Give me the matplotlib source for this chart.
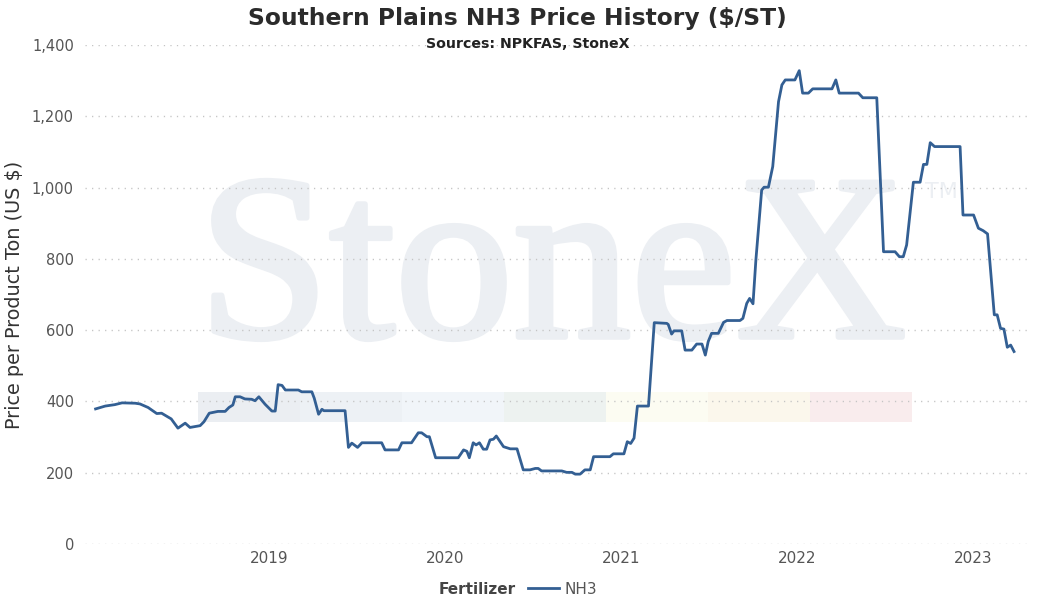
import matplotlib
matplotlib.use("Agg")
import matplotlib.pyplot as plt
import matplotlib.ticker as mticker
import matplotlib.patheffects as pe
from matplotlib.patches import Rectangle
import pandas as pd

# NH3 price history, Southern Plains ($/ST)
dates_2018 = ["2018-01-05", "2018-01-25", "2018-02-14", "2018-03-01", "2018-03-28", "2018-04-07",
              "2018-04-24", "2018-05-12", "2018-05-22", "2018-06-11", "2018-06-25", "2018-07-10",
              "2018-07-20", "2018-08-10", "2018-08-18", "2018-08-29", "2018-09-16", "2018-10-01",
              "2018-10-09", "2018-10-17", "2018-10-22", "2018-11-01", "2018-11-11", "2018-11-25",
              "2018-12-02", "2018-12-10", "2018-12-23"]
prices_2018 = [379, 387, 391, 396, 395, 393, 383, 366, 367, 351, 325, 339, 327, 332, 343, 367,
               372, 372, 383, 390, 413, 413, 407, 406, 402, 413, 392]

dates_2019 = ["2019-01-06", "2019-01-13", "2019-01-19", "2019-01-27", "2019-02-03", "2019-03-02",
              "2019-03-09", "2019-03-30", "2019-04-04", "2019-04-13", "2019-04-20", "2019-04-24",
              "2019-06-07", "2019-06-14", "2019-06-21", "2019-07-03", "2019-07-12", "2019-08-22",
              "2019-08-29", "2019-09-26", "2019-10-03", "2019-10-23", "2019-11-06", "2019-11-13",
              "2019-11-24", "2019-11-29", "2019-12-12"]
prices_2019 = [373, 373, 447, 445, 432, 432, 427, 427, 409, 364, 378, 374, 374, 271, 283, 271,
               284, 284, 264, 264, 284, 284, 312, 312, 301, 301, 242]

dates_2020 = ["2020-01-28", "2020-02-08", "2020-02-15", "2020-02-20", "2020-02-28", "2020-03-05",
              "2020-03-12", "2020-03-20", "2020-03-27", "2020-04-03", "2020-04-10", "2020-04-16",
              "2020-05-01", "2020-05-15", "2020-05-29", "2020-06-11", "2020-06-25", "2020-07-06",
              "2020-07-12", "2020-07-19", "2020-08-30", "2020-09-09", "2020-09-20", "2020-09-27",
              "2020-10-07", "2020-10-17", "2020-10-28", "2020-11-04", "2020-12-08", "2020-12-15"]
prices_2020 = [242, 264, 260, 242, 284, 278, 284, 266, 266, 292, 294, 303, 273, 267, 267, 208,
               208, 212, 212, 205, 205, 201, 201, 196, 196, 208, 208, 245, 245, 253]

dates_2021 = ["2021-01-06", "2021-01-13", "2021-01-20", "2021-01-27", "2021-02-03", "2021-02-26",
              "2021-03-10", "2021-04-05", "2021-04-08", "2021-04-15", "2021-04-20", "2021-05-06",
              "2021-05-13", "2021-05-27", "2021-06-06", "2021-06-17", "2021-06-24", "2021-06-30",
              "2021-07-07", "2021-07-21", "2021-08-01", "2021-08-08", "2021-09-04", "2021-09-10",
              "2021-09-18", "2021-09-24", "2021-10-01", "2021-10-07", "2021-10-19", "2021-10-24",
              "2021-11-02", "2021-11-11", "2021-11-23", "2021-11-30", "2021-12-07", "2021-12-27"]
prices_2021 = [253, 287, 282, 297, 387, 387, 621, 619, 616, 589, 598, 598, 544, 544, 561, 561,
               530, 568, 591, 591, 622, 627, 627, 633, 675, 689, 674, 797, 993, 1001, 1001, 1059,
               1241, 1288, 1302, 1302]

dates_2022 = ["2022-01-05", "2022-01-12", "2022-01-24", "2022-02-02", "2022-03-14", "2022-03-22",
              "2022-03-29", "2022-05-08", "2022-05-17", "2022-06-15", "2022-06-29", "2022-07-23",
              "2022-08-01", "2022-08-09", "2022-08-16", "2022-08-30", "2022-09-13", "2022-09-20",
              "2022-09-27", "2022-10-04", "2022-10-13", "2022-12-05", "2022-12-11"]
prices_2022 = [1328, 1265, 1265, 1277, 1277, 1302, 1265, 1265, 1252, 1252, 820, 820, 806, 806,
               839, 1015, 1015, 1065, 1065, 1126, 1115, 1115, 923]

dates_2023 = ["2023-01-02", "2023-01-12", "2023-01-22", "2023-01-31", "2023-02-14", "2023-02-20",
              "2023-02-27", "2023-03-06", "2023-03-13", "2023-03-20", "2023-03-27"]
prices_2023 = [923, 886, 879, 870, 643, 643, 605, 603, 552, 558, 540]

dates = pd.to_datetime(dates_2018 + dates_2019 + dates_2020 + dates_2021 + dates_2022 + dates_2023)
prices = prices_2018 + prices_2019 + prices_2020 + prices_2021 + prices_2022 + prices_2023

year_ticks = ["2019", "2020", "2021", "2022", "2023"]
y_ticks = [0, 200, 400, 600, 800, 1000, 1200, 1400]

line_color = "#335f93"
wm_color = "#eceff3"

fig = plt.figure(figsize=(10.48, 6.05), dpi=100)

# StoneX watermark behind everything
fig.text(0.189, 0.443, "StoneX", family="Liberation Serif", fontsize=170,
         color=wm_color, ha="left", va="baseline", zorder=-5,
         path_effects=[pe.withStroke(linewidth=4, foreground=wm_color)])
fig.text(0.883, 0.672, "TM", family="DejaVu Sans", fontsize=16,
         color=wm_color, ha="left", va="baseline", zorder=-5)
band_colors = ["#ebeef2", "#edf1f5", "#f1f5f9", "#edf2f0", "#fcfcf2", "#fbf7ec", "#f9eced"]
for i, c in enumerate(band_colors):
    fig.patches.append(Rectangle((0.189 + i * 0.0973, 0.303), 0.0973, 0.0496,
                                 transform=fig.transFigure, facecolor=c,
                                 edgecolor="none", zorder=-6))

ax = fig.add_axes([85 / 1048, 61 / 605, 943 / 1048, 499 / 605])
ax.set_facecolor("none")
ax.plot(dates, prices, color=line_color, linewidth=2.0, label="NH3", zorder=3)

ax.set_ylim(0, 1400)
ax.set_xlim(pd.Timestamp("2017-12-14"), pd.Timestamp("2023-04-25"))
ax.set_yticks(y_ticks)
ax.yaxis.set_major_formatter(mticker.FuncFormatter(lambda v, p: f"{int(v):,}"))
ax.set_xticks(pd.to_datetime([y + "-01-01" for y in year_ticks]))
ax.set_xticklabels(year_ticks)

ax.grid(axis="y", color="#c4c4c4", linewidth=1.0, linestyle=(0, (0.9, 3.8)))
ax.grid(axis="x", visible=False)
for s in ax.spines.values():
    s.set_visible(False)
ax.tick_params(axis="both", length=0, colors="#555555")
ax.tick_params(axis="y", labelsize=10.5, pad=8)
ax.tick_params(axis="x", labelsize=11, pad=5)

fig.text(0.0134, 0.512, "Price per Product Ton (US $)", rotation=90, fontsize=13.9,
         color="#333333", ha="center", va="center")

fig.text(0.494, 0.970, "Southern Plains NH3 Price History ($/ST)", fontsize=16.8,
         fontweight="bold", color="#2b2b2b", ha="center", va="center")
fig.text(0.504, 0.927, "Sources: NPKFAS, StoneX", fontsize=10.2, fontweight="bold",
         color="#222222", ha="center", va="center")

fig.text(0.455, 0.0264, "Fertilizer", fontsize=11, fontweight="bold",
         color="#444444", ha="center", va="center")
fig.legend(loc="center left", bbox_to_anchor=(0.497, 0.0264), frameon=False,
           fontsize=11, handlelength=2.0, handletextpad=0.35, borderpad=0,
           labelcolor="#555555")

fig.savefig("out.png", dpi=100)
